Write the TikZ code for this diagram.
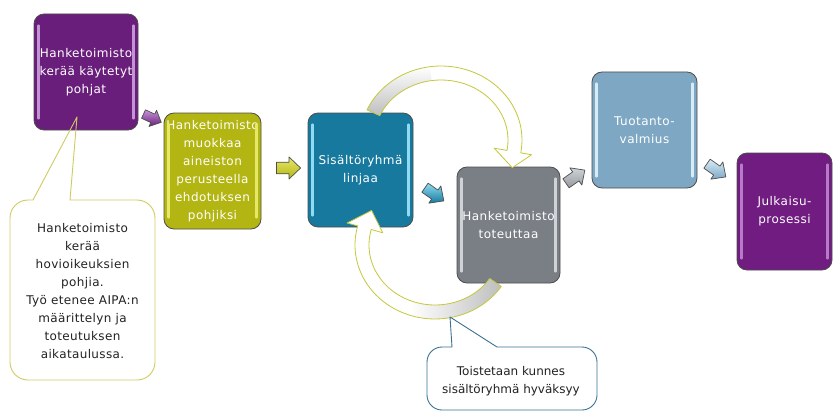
\documentclass[tikz,border=0pt]{standalone}
\usepackage{fontspec}
\setmainfont{DejaVu Sans}
\newfontfamily\labelfont[LetterSpace=4]{DejaVu Sans}
\newfontfamily\notefont[LetterSpace=3]{DejaVu Sans}
\usetikzlibrary{calc}

\definecolor{boxrim}{HTML}{4D4D4D}
\definecolor{fillA}{HTML}{6A1E7B}\definecolor{stripA}{HTML}{C493D6}
\definecolor{fillB}{HTML}{B3B512}\definecolor{stripB}{HTML}{E6E86A}
\definecolor{fillC}{HTML}{17799E}\definecolor{stripC}{HTML}{8FDCF2}
\definecolor{fillD}{HTML}{7A7F86}\definecolor{stripD}{HTML}{D0D3D6}
\definecolor{fillE}{HTML}{7EA7C4}\definecolor{stripE}{HTML}{D8ECF7}
\definecolor{fillF}{HTML}{701C80}\definecolor{stripF}{HTML}{B77AC8}
\definecolor{loopline}{HTML}{C4C83A}
\definecolor{tailgray}{HTML}{BEBEBE}
\definecolor{noteA}{HTML}{CFCB62}
\definecolor{noteB}{HTML}{3A7090}
\definecolor{notetext}{HTML}{222222}

% circular loop arrows (centre, radii and angles in pixel-like units)
\newcommand\toploop{plot[domain=204:370,samples=60] ({441+81*cos(\x)},{140+74*sin(\x)})
  -- ({441+92*cos(370)},{140+85*sin(370)})
  -- ({441+78*cos(384)},{140+68*sin(384)})
  -- ({441+54*cos(370)},{140+47*sin(370)})
  -- plot[domain=370:204,samples=60] ({441+67*cos(\x)},{140+60*sin(\x)}) -- cycle}
\newcommand\toptail{plot[domain=204:262,samples=30] ({441+81*cos(\x)},{140+74*sin(\x)})
  -- plot[domain=262:204,samples=30] ({441+67*cos(\x)},{140+60*sin(\x)}) -- cycle}
\newcommand\botloop{plot[domain=34:195,samples=60] ({435+80*cos(\x)},{245+74*sin(\x)})
  -- ({435+91*cos(195)},{245+85*sin(195)})
  -- ({435+74*cos(211)},{245+67*sin(211)})
  -- ({435+54*cos(195)},{245+47*sin(195)})
  -- plot[domain=195:34,samples=60] ({435+66*cos(\x)},{245+60*sin(\x)}) -- cycle}
\newcommand\bottail{plot[domain=34:108,samples=30] ({435+80*cos(\x)},{245+74*sin(\x)})
  -- plot[domain=108:34,samples=30] ({435+66*cos(\x)},{245+60*sin(\x)}) -- cycle}

% block arrow between two steps: name, x, y, angle, scale, top colour, bottom colour
\newcommand\blockarrow[7]{%
  \coordinate (#1) at (#2,#3);
  \draw[draw=boxrim, line width=0.7pt, line join=round, top color=#6, bottom color=#7,
        shift={(#1)}, rotate=#4, scale=#5]
    (-11,-5.5) -- (1,-5.5) -- (1,-10.5) -- (12,0) -- (1,10.5) -- (1,5.5) -- (-11,5.5) -- cycle;}

\begin{document}
\begin{tikzpicture}[x=1pt,y=-1pt,
  stepbox/.style={rounded corners=10pt, draw=boxrim, line width=0.8pt, inner sep=0pt,
    text=white, align=center, font=\fontsize{12}{18}\labelfont},
  stripline/.style={line width=2.6pt, line cap=round},
  loopstyle/.style={draw=loopline, line width=0.8pt, line join=round},
  notetextstyle/.style={align=center, text=notetext, inner sep=0pt}]
\useasboundingbox (0,0) rectangle (833,412);

% process steps
\node[stepbox, fill=fillA, minimum width=104pt, minimum height=116pt] (b1) at (86,72)
  {Hanketoimisto\\kerää käytetyt\\pohjat};
\node[stepbox, fill=fillB, minimum width=97pt, minimum height=116pt] (b2) at (212.5,171)
  {Hanketoimisto\\muokkaa\\aineiston\\perusteella\\ehdotuksen\\pohjiksi};
\node[stepbox, fill=fillC, minimum width=105pt, minimum height=114pt] (b3) at (360.5,170)
  {Sisältöryhmä\\linjaa};
\node[stepbox, fill=fillD, minimum width=103pt, minimum height=116pt] (b4) at (508.5,225)
  {Hanketoimisto\\toteuttaa};
\node[stepbox, fill=fillE, minimum width=105pt, minimum height=116pt] (b5) at (644.5,130)
  {Tuotanto-\\valmius};
\node[stepbox, fill=fillF, minimum width=95pt, minimum height=117pt] (b6) at (784.5,211.5)
  {Julkaisu-\\prosessi};

% bevel highlights on the box sides
\foreach \n/\c in {b1/stripA,b2/stripB,b3/stripC,b4/stripD,b5/stripE,b6/stripF}{
  \draw[stripline, \c] ($(\n.north west)+(5,12)$) -- ($(\n.south west)+(5,-12)$);
  \draw[stripline, \c] ($(\n.north east)+(-5,12)$) -- ($(\n.south east)+(-5,-12)$);
}

% small block arrows between the steps
\blockarrow{a12}{152}{118}{-25}{0.85}{stripA}{fillA}
\blockarrow{a23}{288}{168}{0}{1.05}{stripB}{fillB}
\blockarrow{a34}{434}{194}{-35}{1}{stripC}{fillC}
\blockarrow{a45}{575}{177}{35}{1}{stripD}{fillD!80}
\blockarrow{a56}{716}{170}{-35}{1}{stripE}{fillE}

% review loop between the content group and the project office
\fill[white] \toploop;
\shade[bottom color=tailgray, middle color=tailgray, top color=white] \toptail;
\draw[loopstyle] \toploop;
\fill[white] \botloop;
\shade[right color=tailgray, middle color=tailgray, left color=white] \bottail;
\draw[loopstyle] \botloop;

% callouts
\draw[noteA, line width=0.9pt, line join=round]
  (70,200) -- (137,200) arc[start angle=-90, end angle=0, radius=18]
  -- (155,362) arc[start angle=0, end angle=90, radius=18]
  -- (28,380) arc[start angle=90, end angle=180, radius=18]
  -- (10,218) arc[start angle=180, end angle=270, radius=18]
  -- (33,200) -- (77,117) -- cycle;
\node[notetextstyle, font=\fontsize{12}{18}\notefont] (t1) at (82.5,291)
  {Hanketoimisto\\kerää\\hovioikeuksien\\pohjia.\\Työ etenee AIPA:n\\määrittelyn ja\\toteutuksen\\aikataulussa.};

\draw[noteB, line width=0.9pt, line join=round]
  (497,347) -- (582,347) arc[start angle=-90, end angle=0, radius=15]
  -- (597,395) arc[start angle=0, end angle=90, radius=15]
  -- (442,410) arc[start angle=90, end angle=180, radius=15]
  -- (427,362) arc[start angle=180, end angle=270, radius=15]
  -- (452,347) -- (450,317) -- cycle;
\node[notetextstyle, font=\fontsize{12}{18}\selectfont] (t2) at (511,381)
  {Toistetaan kunnes\\sisältöryhmä hyväksyy};
\end{tikzpicture}
\end{document}
